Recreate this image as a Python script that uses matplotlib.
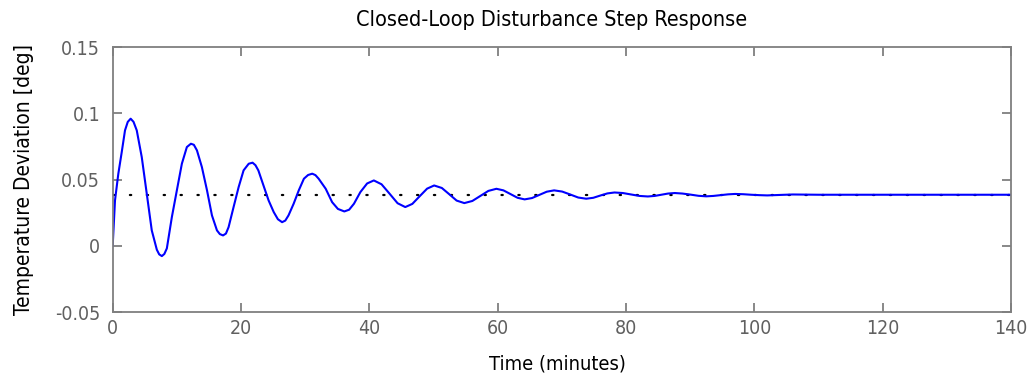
import numpy as np
import matplotlib
matplotlib.use("Agg")
from matplotlib import pyplot as plt

# values
t_min = [0.0, 0.36, 0.88, 1.41, 1.92, 2.35, 2.8, 3.25, 3.75, 4.53, 5.31, 6.09, 6.88,
         7.25, 7.66, 8.05, 8.44, 9.22, 10.0, 10.78, 11.56, 12.19, 12.65, 13.13, 13.9,
         14.7, 15.47, 16.25, 16.7, 17.2, 17.65, 18.06, 18.84, 19.63, 20.4, 21.2, 21.8,
         22.25, 22.7, 23.5, 24.3, 25.1, 25.75, 26.4, 26.9, 27.4, 28.2, 29.0, 29.8,
         30.45, 31.1, 31.6, 32.1, 33.2, 34.2, 35.1, 36.1, 36.85, 37.6, 38.6, 39.65,
         40.7, 41.9, 43.15, 44.4, 45.6, 46.7, 47.85, 49.0, 50.1, 51.3, 52.45, 53.6,
         54.8, 56.05, 57.3, 58.55, 59.8, 60.9, 62.0, 63.1, 64.2, 65.35, 66.5, 67.65,
         68.8, 70.05, 71.3, 72.55, 73.8, 74.9, 76.0, 77.1, 78.2, 79.5, 80.8, 82.1,
         83.4, 84.45, 85.5, 86.55, 87.6, 88.8, 90.05, 91.3, 92.5, 93.6, 94.75, 95.9,
         97.0, 98.25, 99.5, 100.75, 102.0, 106.0, 110.0, 140.0]
temp_dev = [0.0, 0.0342, 0.0544, 0.0707, 0.0871, 0.0935, 0.0959, 0.0935, 0.0871,
            0.0669, 0.0393, 0.0116, -0.003, -0.0065, -0.0078, -0.0062, -0.002,
            0.0216, 0.0418, 0.0619, 0.0745, 0.0770, 0.0762, 0.072, 0.0594, 0.0418,
            0.0229, 0.0116, 0.0088, 0.0078, 0.0092, 0.0140, 0.0292, 0.0443, 0.0569,
            0.0619, 0.0627, 0.0608, 0.0569, 0.0455, 0.0342, 0.0254, 0.0200, 0.0178,
            0.0190, 0.0229, 0.0317, 0.0418, 0.0506, 0.0534, 0.0544, 0.0533, 0.0506,
            0.0430, 0.0329, 0.0278, 0.0259, 0.0272, 0.0317, 0.0405, 0.0470, 0.0493,
            0.0464, 0.0393, 0.0321, 0.0292, 0.0316, 0.0374, 0.0431, 0.0455, 0.0436,
            0.0389, 0.0341, 0.0322, 0.0338, 0.0376, 0.0414, 0.0430, 0.0418, 0.0390,
            0.0362, 0.0350, 0.0360, 0.0384, 0.0408, 0.0418, 0.0409, 0.0387, 0.0364,
            0.0355, 0.0362, 0.0379, 0.0395, 0.0402, 0.0398, 0.0387, 0.0376, 0.0372,
            0.0376, 0.0385, 0.0394, 0.0398, 0.0394, 0.0386, 0.0377, 0.0373, 0.0376,
            0.0382, 0.0388, 0.0391, 0.0389, 0.0385, 0.0382, 0.0380, 0.0387, 0.0385,
            0.0385]
steady_state = 0.0385

x_ticks = [0, 20, 40, 60, 80, 100, 120, 140]
y_ticks = [-0.05, 0, 0.05, 0.1, 0.15]
y_tick_labels = ['-0.05', '0', '0.05', '0.1', '0.15']

plt.rcParams['font.family'] = ['DejaVu Sans', 'Liberation Sans']
plt.rcParams['font.stretch'] = 'condensed'

fig = plt.figure(figsize=(10.31, 3.81), dpi=100)
ax = fig.add_axes([0.1093, 0.1811, 0.8713, 0.6955])

ax.plot([0, 140], [steady_state, steady_state], color='black', linestyle=(0, (0.6, 7)),
        linewidth=1.6, dash_capstyle='round')
ax.plot(t_min, temp_dev, color='#0000ff', linewidth=1.5)

ax.set_xlim(0, 140)
ax.set_ylim(-0.05, 0.15)
ax.set_xticks(x_ticks)
ax.set_xticklabels([str(v) for v in x_ticks])
ax.set_yticks(y_ticks)
ax.set_yticklabels(y_tick_labels)

grey = '#7f7f7f'
for s in ax.spines.values():
    s.set_color(grey)
    s.set_linewidth(1.3)
ax.tick_params(direction='in', length=6.5, width=1.3, color=grey, labelcolor='#606060',
               labelsize=14, top=True, right=True)
ax.tick_params(axis='y', pad=9)
ax.tick_params(axis='x', pad=5)

ax.set_title('Closed-Loop Disturbance Step Response', fontsize=15.5, pad=15, x=0.488)
ax.set_xlabel('Time (minutes)', fontsize=14.5, labelpad=12)
ax.xaxis.label.set_x(0.495)
ax.set_ylabel('Temperature Deviation [deg]', fontsize=15, labelpad=15)

fig.savefig('out.png', dpi=100)
